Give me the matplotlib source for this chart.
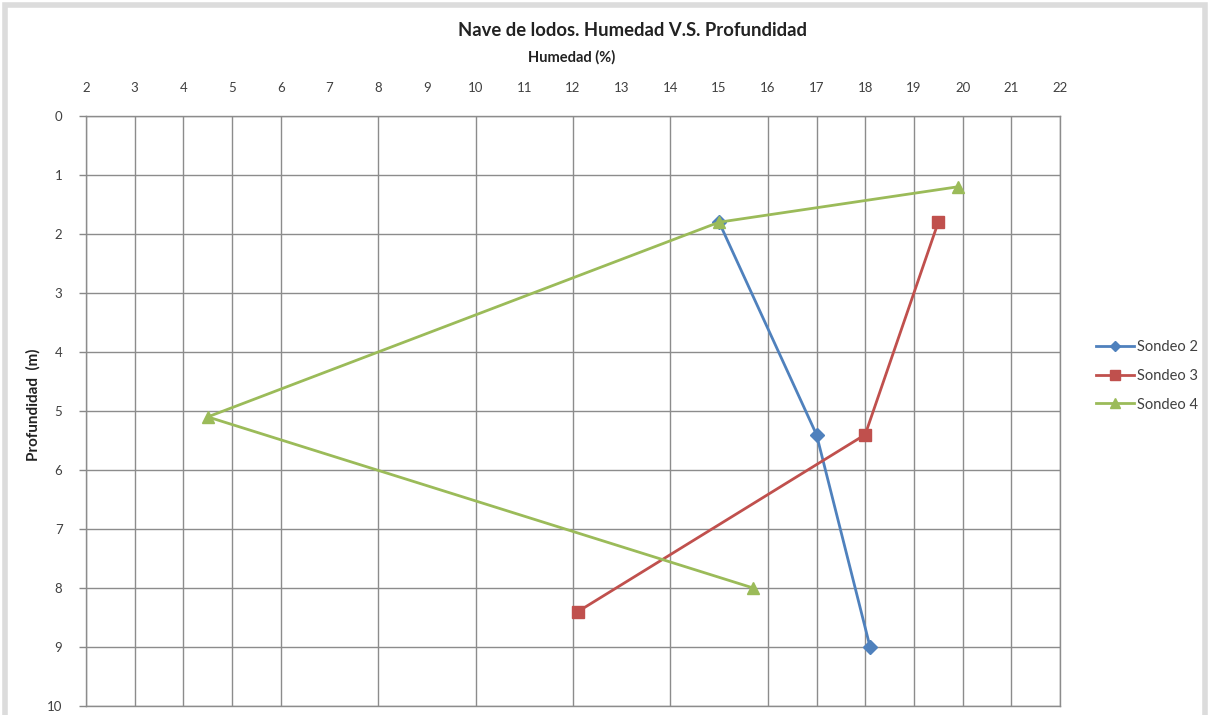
import matplotlib
matplotlib.use("Agg")
import matplotlib.pyplot as plt
import matplotlib.patches as patches

# humedad (%) vs profundidad (m) por sondeo
s2_hum = [15.0, 17.0, 18.1]
s2_prof = [1.8, 5.4, 9.0]
s3_hum = [19.5, 18.0, 12.1]
s3_prof = [1.8, 5.4, 8.4]
s4_hum = [19.9, 15.0, 4.5, 15.7]
s4_prof = [1.2, 1.8, 5.1, 8.0]

x_ticks = list(range(2, 23))
x_grid = [2, 3, 4, 5, 6, 8, 10, 12, 14, 16, 17, 18, 19, 20, 21, 22]
y_ticks = list(range(0, 11))

plt.rcParams['font.family'] = ['Lato', 'DejaVu Sans']

fig = plt.figure(figsize=(12.14, 7.15), dpi=100)
fig.patch.set_facecolor('white')

# marco gris del area del grafico
frame = patches.Rectangle((5 / 1214, -0.01), 1200 / 1214, 1 - 5 / 715 + 0.01,
                          transform=fig.transFigure, fill=False,
                          edgecolor='#dcdcdc', linewidth=4)
fig.patches.append(frame)

ax = fig.add_axes([86 / 1214, 1 - 706 / 715, 974 / 1214, 590 / 715])

ax.plot(s2_hum, s2_prof, color='#4F81BD', marker='D', markersize=7, linewidth=2, label='Sondeo 2')
ax.plot(s3_hum, s3_prof, color='#C0504D', marker='s', markersize=9, linewidth=2, label='Sondeo 3')
ax.plot(s4_hum, s4_prof, color='#9BBB59', marker='^', markersize=9, linewidth=2, label='Sondeo 4')

ax.set_xlim(2, 22)
ax.set_ylim(10, 0)

ax.xaxis.tick_top()
ax.xaxis.remove_overlapping_locs = False
ax.set_xticks(x_ticks)
ax.set_xticks(x_grid, minor=True)
ax.set_yticks(y_ticks)
ax.tick_params(axis='x', which='both', length=0, pad=16, labelsize=9.5, colors='#404040')
ax.tick_params(axis='y', which='major', length=5, width=1, color='#888888', pad=12,
               labelsize=9.5, labelcolor='#404040')
ax.grid(False, which='major', axis='x')
ax.grid(True, which='minor', axis='x', color='#8c8c8c', linewidth=1)
ax.grid(True, which='major', axis='y', color='#8c8c8c', linewidth=1)
ax.set_axisbelow(True)
for sp in ax.spines.values():
    sp.set_color('#8c8c8c')
    sp.set_linewidth(1)

fig.text(632 / 1214, 1 - 30 / 715, 'Nave de lodos. Humedad V.S. Profundidad',
         ha='center', va='center', fontsize=13.3, fontweight='bold', color='#222222')
fig.text(572 / 1214, 1 - 57 / 715, 'Humedad (%)', ha='center', va='center',
         fontsize=10.5, fontweight='bold', color='#222222')
fig.text(33 / 1214, 1 - 405 / 715, 'Profundidad  (m)', ha='center', va='center',
         rotation=90, fontsize=11, fontweight='bold', color='#222222')

leg = ax.legend(loc='center left', bbox_to_anchor=(1083 / 1214, 1 - 376 / 715),
                bbox_transform=fig.transFigure, frameon=False, fontsize=10.5,
                handlelength=2.6, handletextpad=0.2, labelspacing=1.0, markerscale=0.8)
for t in leg.get_texts():
    t.set_color('#404040')

fig.savefig('out.png', dpi=100)
